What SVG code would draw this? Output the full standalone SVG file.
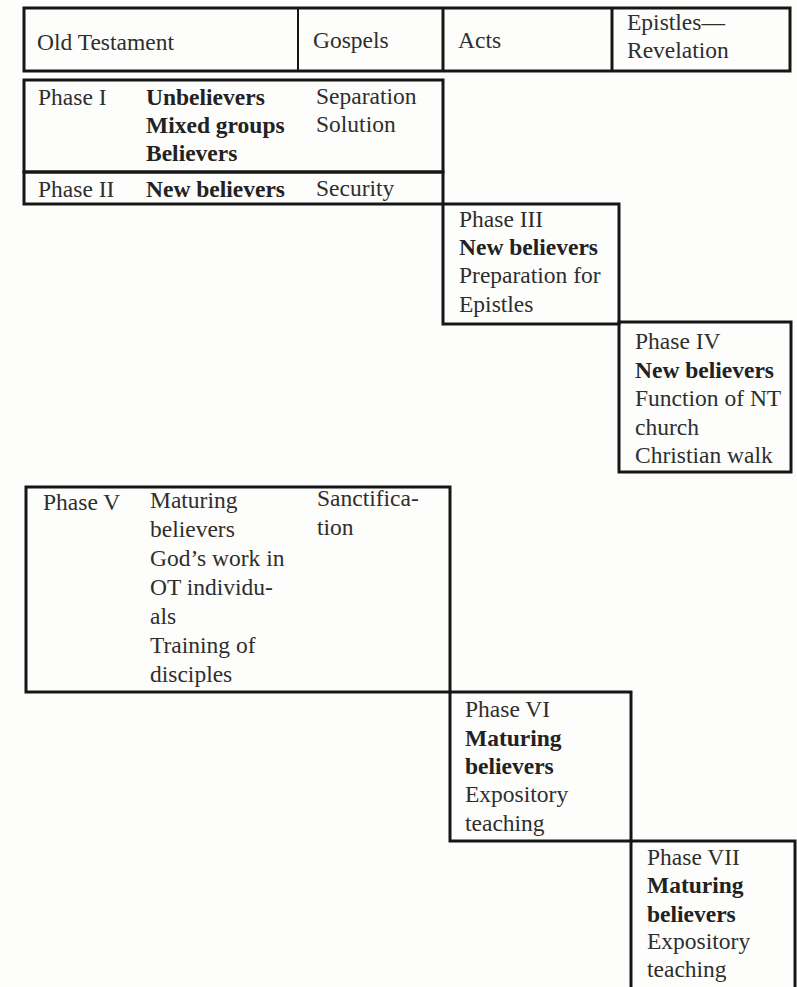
<svg xmlns="http://www.w3.org/2000/svg" width="797" height="987" viewBox="0 0 797 987">
<style>
.bg{fill:#fdfdfc}
.box{fill:none;stroke:#161616;stroke-width:3}
.thin{stroke:#161616;stroke-width:2}
.div{stroke:#161616;stroke-width:3}
text{font-family:"Liberation Serif","Times New Roman",serif;font-size:23.5px;fill:#2e2e2e}
.b{font-weight:bold;fill:#222222}
</style>
<rect class="bg" x="0" y="0" width="797" height="987"/>
<g id="header">
<rect class="box" x="24" y="8" width="766" height="63"/>
<line class="thin" x1="298" y1="8" x2="298" y2="71"/>
<line class="div" x1="443" y1="8" x2="443" y2="71"/>
<line class="div" x1="612" y1="8" x2="612" y2="71"/>
<text x="37" y="50">Old Testament</text>
<text x="313" y="48">Gospels</text>
<text x="458" y="48">Acts</text>
<text x="627" y="30">Epistles—</text>
<text x="627" y="58">Revelation</text>
</g>
<g id="phase1">
<rect class="box" x="24" y="80" width="419" height="92"/>
<text x="38" y="105">Phase I</text>
<text class="b" x="146" y="105">Unbelievers</text>
<text class="b" x="146" y="133">Mixed groups</text>
<text class="b" x="146" y="161">Believers</text>
<text x="316" y="104">Separation</text>
<text x="316" y="132">Solution</text>
</g>
<g id="phase2">
<rect class="box" x="24" y="172" width="419" height="32"/>
<text x="38" y="197">Phase II</text>
<text class="b" x="146" y="197">New believers</text>
<text x="316" y="196">Security</text>
</g>
<g id="phase3">
<rect class="box" x="443" y="204" width="176" height="120"/>
<text x="459" y="227">Phase III</text>
<text class="b" x="459" y="255">New believers</text>
<text x="459" y="283">Preparation for</text>
<text x="459" y="312">Epistles</text>
</g>
<g id="phase4">
<rect class="box" x="619" y="322" width="172" height="150"/>
<text x="635" y="349">Phase IV</text>
<text class="b" x="635" y="378">New believers</text>
<text x="635" y="406">Function of NT</text>
<text x="635" y="435">church</text>
<text x="635" y="463">Christian walk</text>
</g>
<g id="phase5">
<rect class="box" x="26" y="487" width="424" height="205"/>
<text x="43" y="510">Phase V</text>
<text x="150" y="508">Maturing</text>
<text x="150" y="537">believers</text>
<text x="150" y="566">God’s work in</text>
<text x="150" y="595">OT individu-</text>
<text x="150" y="624">als</text>
<text x="150" y="653">Training of</text>
<text x="150" y="682">disciples</text>
<text x="317" y="506">Sanctifica-</text>
<text x="317" y="535">tion</text>
</g>
<g id="phase6">
<rect class="box" x="450" y="692" width="181" height="149"/>
<text x="465" y="717">Phase VI</text>
<text class="b" x="465" y="746">Maturing</text>
<text class="b" x="465" y="774">believers</text>
<text x="465" y="802">Expository</text>
<text x="465" y="831">teaching</text>
</g>
<g id="phase7">
<rect class="box" x="631" y="841" width="164" height="160"/>
<text x="647" y="865">Phase VII</text>
<text class="b" x="647" y="893">Maturing</text>
<text class="b" x="647" y="922">believers</text>
<text x="647" y="949">Expository</text>
<text x="647" y="977">teaching</text>
</g>
<g id="connectors"></g>
</svg>
